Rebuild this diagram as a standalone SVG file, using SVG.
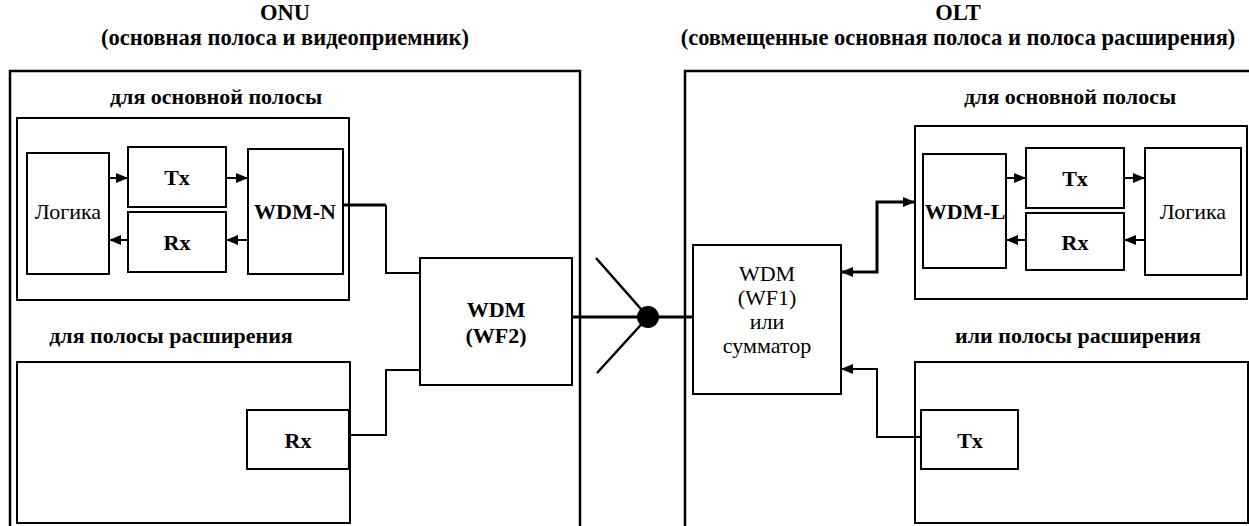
<svg xmlns="http://www.w3.org/2000/svg" width="1249" height="526" viewBox="0 0 1249 526">
<defs>
<style>
.box{fill:none;stroke:#000;stroke-width:2}
.outer{fill:none;stroke:#000;stroke-width:2.5}
.t{font-family:"Liberation Serif","Times New Roman",serif;font-size:22px;fill:#000;text-anchor:middle}
.h{font-size:22.5px}
.b{font-weight:bold}
.ln{fill:none;stroke:#000;stroke-width:2}
.thick{stroke-width:3}
</style>
<marker id="ah" viewBox="0 0 12 10" refX="12" refY="5" markerWidth="12" markerHeight="10" markerUnits="userSpaceOnUse" orient="auto-start-reverse">
<path d="M0,0 L12,5 L0,10 z" fill="#000"/>
</marker>
</defs>
<rect width="1249" height="526" fill="#fff"/>

<g id="onu">
<rect class="outer" x="10" y="71" width="570" height="470"/>
<text class="t h b" x="285" y="20">ONU</text>
<text class="t h b" x="285" y="45">(основная полоса и видеоприемник)</text>
</g>
<g id="onu-basic">
<text class="t b" x="216" y="104">для основной полосы</text>
<rect class="box" x="17" y="118" width="332" height="182"/>
</g>
<g id="onu-logic">
<rect class="box" x="27" y="153" width="82" height="121"/>
<text class="t" x="68" y="219">Логика</text>
</g>
<g id="onu-tx">
<rect class="box" x="128" y="147" width="98" height="60"/>
<text class="t b" x="177" y="185">Tx</text>
</g>
<g id="onu-rx">
<rect class="box" x="128" y="212" width="98" height="60"/>
<text class="t b" x="177" y="250">Rx</text>
</g>
<g id="onu-wdmn">
<rect class="box" x="248" y="149" width="95" height="125"/>
<text class="t b" x="295" y="219">WDM-N</text>
</g>
<g id="onu-ext">
<text class="t b" x="171" y="343">для полосы расширения</text>
<rect class="box" x="17" y="362" width="333" height="161"/>
</g>
<g id="onu-ext-rx">
<rect class="box" x="247" y="410" width="102" height="59"/>
<text class="t b" x="298" y="448">Rx</text>
</g>
<g id="wf2">
<rect class="box" x="420" y="258" width="152" height="127"/>
<text class="t b" x="496" y="317">WDM</text>
<text class="t b" x="496" y="343">(WF2)</text>
</g>

<g id="splitter">
<circle cx="648" cy="317" r="11" fill="#000"/>
</g>

<g id="olt">
<rect class="outer" x="685" y="71" width="570" height="470"/>
<text class="t h b" x="958" y="20">OLT</text>
<text class="t h b" x="958" y="45">(совмещенные основная полоса и полоса расширения)</text>
</g>
<g id="wf1">
<rect class="box" x="693" y="245" width="148" height="149"/>
<text class="t" x="767" y="281">WDM</text>
<text class="t" x="767" y="305">(WF1)</text>
<text class="t" x="767" y="329">или</text>
<text class="t" x="767" y="353">сумматор</text>
</g>
<g id="olt-basic">
<text class="t b" x="1070" y="104">для основной полосы</text>
<rect class="box" x="915" y="126" width="332" height="173"/>
</g>
<g id="olt-wdml">
<rect class="box" x="923" y="154" width="83" height="114"/>
<text class="t b" x="965" y="219">WDM-L</text>
</g>
<g id="olt-tx">
<rect class="box" x="1026" y="148" width="98" height="60"/>
<text class="t b" x="1075" y="186">Tx</text>
</g>
<g id="olt-rx">
<rect class="box" x="1026" y="213" width="98" height="57"/>
<text class="t b" x="1075" y="250">Rx</text>
</g>
<g id="olt-logic">
<rect class="box" x="1145" y="148" width="96" height="127"/>
<text class="t" x="1193" y="219">Логика</text>
</g>
<g id="olt-ext">
<text class="t b" x="1078" y="343">или полосы расширения</text>
<rect class="box" x="915" y="362" width="333" height="161"/>
</g>
<g id="olt-ext-tx">
<rect class="box" x="921" y="410" width="97" height="59"/>
<text class="t b" x="970" y="448">Tx</text>
</g>

<g id="connectors">
<path class="ln" d="M109,178 H128" marker-end="url(#ah)"/>
<path class="ln" d="M226,178 H248" marker-end="url(#ah)"/>
<path class="ln" d="M248,240 H226" marker-end="url(#ah)"/>
<path class="ln" d="M128,240 H109" marker-end="url(#ah)"/>
<path class="ln thick" d="M343,205 H386"/>
<path class="ln" d="M386,205 V273 H420"/>
<path class="ln" d="M349,435 H386 V370 H420"/>
<path class="ln thick" d="M572,317 H693"/>
<path class="ln" d="M596,258 L648,317 L597,373" style="stroke-width:2.5"/>
<path class="ln thick" d="M841,272 H877 V202 H915" marker-start="url(#ah)" marker-end="url(#ah)"/>
<path class="ln" d="M921,437 H877 V369 H841" marker-end="url(#ah)"/>
<path class="ln" d="M1006,178 H1026" marker-end="url(#ah)"/>
<path class="ln" d="M1124,178 H1145" marker-end="url(#ah)"/>
<path class="ln" d="M1145,240 H1124" marker-end="url(#ah)"/>
<path class="ln" d="M1026,240 H1006" marker-end="url(#ah)"/>
</g>
</svg>
